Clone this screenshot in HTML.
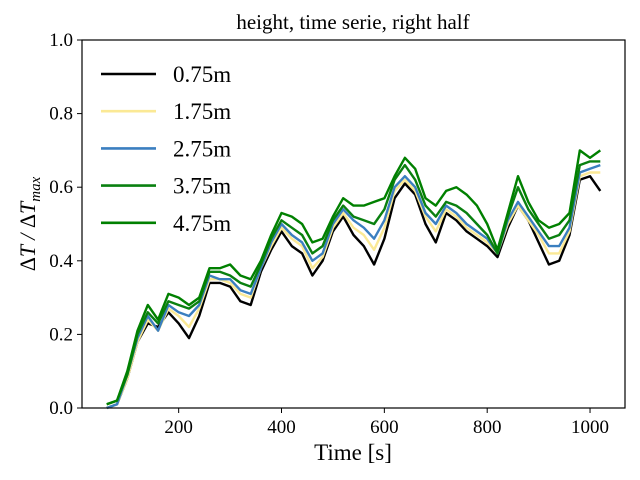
<!DOCTYPE html>
<html><head><meta charset="utf-8"><style>
body{margin:0;background:#fff}
svg{display:block;font-family:"Liberation Serif",serif}
</style></head><body>
<svg id="chart" width="640" height="480">
<rect width="640" height="480" fill="#fff"/>
<text x="353" y="29" font-size="21" text-anchor="middle">height, time serie, right half</text>
<g id="series"></g>
<rect x="82" y="40" width="543" height="368" fill="none" stroke="#000" stroke-width="1.2"/>
<g id="ticks"></g>
<text x="353" y="460" font-size="23" text-anchor="middle">Time [s]</text>
<text transform="translate(35,224) rotate(-90)" font-size="22" text-anchor="middle" font-style="italic"><tspan font-style="normal">Δ</tspan>T / <tspan font-style="normal">Δ</tspan>T<tspan font-size="15" dy="5">max</tspan></text>
<g id="legend"></g>
</svg>
<script>
const times=[60,80,100,120,140,160,180,200,220,240,260,280,300,320,340,360,380,400,420,440,460,480,500,520,540,560,580,600,620,640,660,680,700,720,740,760,780,800,820,840,860,880,900,920,940,960,980,1000,1020];
const s075=[.00,.01,.08,.18,.23,.22,.26,.23,.19,.25,.34,.34,.33,.29,.28,.37,.43,.48,.44,.42,.36,.40,.48,.52,.47,.44,.39,.46,.57,.61,.58,.50,.45,.53,.51,.48,.46,.44,.41,.49,.55,.51,.45,.39,.40,.47,.62,.63,.59];
const s175=[.00,.01,.08,.18,.24,.21,.27,.25,.22,.27,.35,.35,.34,.31,.30,.38,.44,.49,.46,.44,.38,.41,.49,.53,.49,.47,.43,.49,.59,.62,.59,.52,.48,.54,.52,.49,.47,.45,.42,.50,.55,.51,.47,.42,.42,.48,.63,.64,.64];
const s275=[.00,.01,.09,.19,.25,.21,.28,.26,.25,.28,.36,.35,.35,.32,.31,.38,.45,.50,.47,.45,.40,.42,.50,.54,.51,.49,.46,.51,.60,.63,.60,.53,.50,.55,.53,.50,.48,.46,.42,.51,.56,.52,.48,.44,.44,.49,.64,.65,.66];
const s375=[.01,.02,.09,.20,.26,.23,.29,.28,.27,.29,.37,.37,.36,.34,.33,.39,.46,.51,.49,.47,.42,.44,.51,.55,.52,.51,.50,.54,.62,.66,.62,.55,.52,.56,.55,.53,.50,.47,.42,.52,.60,.54,.50,.46,.47,.51,.66,.67,.67];
const s475=[.01,.02,.10,.21,.28,.24,.31,.30,.28,.30,.38,.38,.39,.36,.35,.40,.47,.53,.52,.50,.45,.46,.52,.57,.55,.55,.56,.57,.63,.68,.65,.57,.55,.59,.60,.58,.55,.50,.43,.53,.63,.56,.51,.49,.50,.53,.70,.68,.70];
const labels=["0.75m","1.75m","2.75m","3.75m","4.75m"];
const xTicks=[200,400,600,800,1000];
const yTicks=[0.0,0.2,0.4,0.6,0.8,1.0];
const seriesList=[s075,s175,s275,s375,s475];
const colors=["#000000","#fbe995","#3b7fc0","#0a8010","#008000"];
const NS="http://www.w3.org/2000/svg";
const X0=82,X1=625,Y0=408,Y1=40,tMin=12,tMax=1068;
const xs=t=>X0+(t-tMin)/(tMax-tMin)*(X1-X0);
const ys=v=>Y0-v*(Y0-Y1);
function mk(tag,attrs,parent){const e=document.createElementNS(NS,tag);for(const k in attrs)e.setAttribute(k,attrs[k]);parent.appendChild(e);return e;}
const ticks=document.getElementById('ticks');
xTicks.forEach(t=>{
  const l=mk('line',{x1:xs(t),x2:xs(t),y1:Y0,y2:Y0+5,stroke:'#000'},ticks);
  
  
  const tx=mk('text',{x:xs(t),y:Y0+25,'font-size':19,'text-anchor':'middle'},ticks);
  tx.textContent=t;
  
  
});
yTicks.forEach(v=>{
  const l=mk('line',{x1:X0-5,x2:X0,y1:ys(v),y2:ys(v),stroke:'#000'},ticks);
  
  
  const tx=mk('text',{x:X0-9,y:ys(v)+6,'font-size':19,'text-anchor':'end'},ticks);
  tx.textContent=v.toFixed(1);
  
  
});
const sg=document.getElementById('series');
seriesList.forEach((s,i)=>{
  const d=s.map((v,j)=>(j?'L':'M')+xs(times[j]).toFixed(1)+','+ys(v).toFixed(1)).join('');
  const p=mk('path',{d:d,fill:'none',stroke:colors[i],'stroke-width':2.4,'stroke-linejoin':'round'},sg);
  
  
});
const lg=document.getElementById('legend');
labels.forEach((lab,i)=>{
  const y=74+i*37.2;
  const g=mk('g',{},lg);
  
  
  mk('line',{x1:101,x2:156,y1:y,y2:y,stroke:colors[i],'stroke-width':2.6},g);
  const t=mk('text',{x:173,y:y+8,'font-size':23},g);
  t.textContent=lab;
});
</script>
</body></html>
